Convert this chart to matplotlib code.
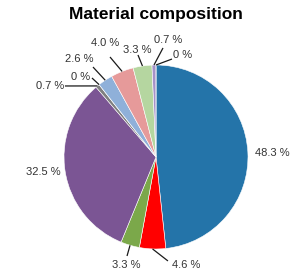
import numpy as np
import matplotlib
matplotlib.use("Agg")
import matplotlib.pyplot as plt

plt.rcParams['font.family'] = ['Liberation Sans', 'DejaVu Sans']

# data, clockwise from 12 o'clock
values = [48.3, 4.6, 3.3, 32.5, 0.7, 0.0, 2.6, 4.0, 3.3, 0.7, 0.0]
labels = ['48.3 %', '4.6 %', '3.3 %', '32.5 %', '0.7 %', '0 %',
          '2.6 %', '4.0 %', '3.3 %', '0.7 %', '0 %']
colors = ['#2474a9', '#ff0000', '#7ba84a', '#7b5594', '#7f7f7f', '#5b8fc7',
          '#8fb0d9', '#e69a9a', '#b5d6a0', '#a592c8', '#2474a9']

# label text placement (data coords), alignment, and leader-line end (None = no line)
text_pos = [(1.076, 0.043), (0.174, -1.174), (-0.326, -1.174), (-1.033, -0.163),
            (-0.99, 0.772), (-0.815, 0.87), (-0.837, 1.065), (-0.554, 1.239),
            (-0.207, 1.163), (0.13, 1.272), (0.185, 1.109)]
text_ha = ['left', 'left', 'center', 'right', 'right', 'center', 'center',
           'center', 'center', 'center', 'left']
line_end = [None, (0.13, -1.13), (-0.315, -1.076), None, (-0.99, 0.772),
            (-0.696, 0.859), (-0.685, 0.978), (-0.5, 1.087), (-0.196, 1.109),
            (0.076, 1.185), (0.174, 1.065)]

fig = plt.figure(figsize=(2.9, 2.77), dpi=100)
ax = fig.add_axes([0, 0, 1, 1])

plot_vals = [max(v, 1e-6) for v in values]
wedges, _ = ax.pie(plot_vals, colors=colors, startangle=90, counterclock=False,
                   radius=1.0, center=(0, 0),
                   wedgeprops=dict(edgecolor='white', linewidth=0.4))

cum = np.cumsum([0] + values)
for i, lab in enumerate(labels):
    mid = 90 - (cum[i] + values[i] / 2) * 3.6
    if line_end[i] is not None:
        sx, sy = np.cos(np.radians(mid)), np.sin(np.radians(mid))
        ex, ey = line_end[i]
        ax.plot([sx, ex], [sy, ey], color='#1a1a1a', lw=0.9, zorder=3,
                solid_capstyle='butt')
    tx, ty = text_pos[i]
    if text_ha[i] == 'right' and line_end[i] is not None:
        tx = line_end[i][0] - 0.01
    ax.text(tx, ty, lab, ha=text_ha[i], va='center', fontsize=8, color='#333333')

ax.text(0, 1.554, 'Material composition', ha='center', va='center',
        fontsize=12.5, fontweight='bold', color='black')

ax.set_xlim(-156 / 92, 134 / 92)
ax.set_ylim(-120 / 92, 157 / 92)
ax.set_aspect('auto')
ax.axis('off')

fig.savefig('out.png', dpi=100)
